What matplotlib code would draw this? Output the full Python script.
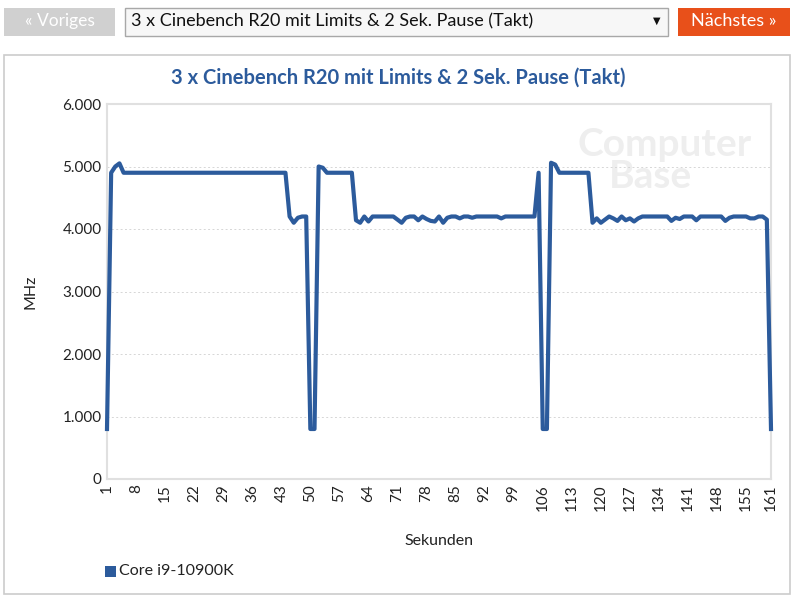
"""Cinebench R20 clock chart (ComputerBase style)."""

import matplotlib.pyplot as plt
import numpy as np
from matplotlib.patches import Rectangle

plt.rcParams["font.family"] = ["Lato", "DejaVu Sans"]

W, H = 799, 602

title = "3 x Cinebench R20 mit Limits & 2 Sek. Pause (Takt)"
series_name = "Core i9-10900K"
seconds = np.arange(1, 162)
mhz = [
    800, 4900, 5000, 5050, 4900, 4900, 4900, 4900, 4900, 4900,
    4900, 4900, 4900, 4900, 4900, 4900, 4900, 4900, 4900, 4900,
    4900, 4900, 4900, 4900, 4900, 4900, 4900, 4900, 4900, 4900,
    4900, 4900, 4900, 4900, 4900, 4900, 4900, 4900, 4900, 4900,
    4900, 4900, 4900, 4900, 4200, 4100, 4180, 4200, 4200, 800,
    800, 5000, 4980, 4900, 4900, 4900, 4900, 4900, 4900, 4900,
    4140, 4100, 4200, 4120, 4200, 4200, 4200, 4200, 4200, 4200,
    4150, 4100, 4180, 4200, 4200, 4140, 4200, 4160, 4130, 4120,
    4200, 4100, 4180, 4200, 4200, 4170, 4200, 4200, 4180, 4200,
    4200, 4200, 4200, 4200, 4200, 4170, 4200, 4200, 4200, 4200,
    4200, 4200, 4200, 4200, 4900, 800, 800, 5060, 5030, 4900,
    4900, 4900, 4900, 4900, 4900, 4900, 4900, 4100, 4170, 4100,
    4150, 4200, 4170, 4130, 4200, 4140, 4170, 4120, 4170, 4200,
    4200, 4200, 4200, 4200, 4200, 4200, 4130, 4180, 4160, 4200,
    4200, 4200, 4140, 4200, 4200, 4200, 4200, 4200, 4200, 4130,
    4180, 4200, 4200, 4200, 4200, 4170, 4170, 4200, 4200, 4150,
    800,
]
x_ticks = list(range(1, 156, 7)) + [161]
y_ticks = [0, 1000, 2000, 3000, 4000, 5000, 6000]
y_labels = ["0", "1.000", "2.000", "3.000", "4.000", "5.000", "6.000"]

blue = "#2c5b9c"
text_col = "#222222"
wm = "#eeeeee"


def fx(px):
    return px / W


def fy(py):
    return 1 - py / H


def box(x0, y0, x1, y1, face, edge="none", lw=1.0):
    fig.patches.append(Rectangle((fx(x0), fy(y1)), fx(x1 - x0), (y1 - y0) / H,
                                 transform=fig.transFigure, facecolor=face,
                                 edgecolor=edge, linewidth=lw, zorder=0))


fig = plt.figure(figsize=(W / 100, H / 100), dpi=100)

# navigation bar
box(4, 8, 115, 36, "#d0d0d0")
fig.text(fx(60), fy(21), "« Voriges", color="white", fontsize=12.5,
         ha="center", va="center")
box(125, 8, 668, 36, "#f7f7f7", edge="#a8a8a8")
fig.text(fx(131), fy(21), title, color="#111111", fontsize=13,
         ha="left", va="center")
fig.text(fx(657), fy(21), "▼", color="#111111", fontsize=7,
         ha="center", va="center", family="DejaVu Sans")
box(678, 8, 790, 36, "#e8501a")
fig.text(fx(734), fy(21), "Nächstes »", color="white", fontsize=13,
         ha="center", va="center")

# chart panel
box(4, 55, 790, 594, "white", edge="#cccccc", lw=1.2)
fig.text(fx(398), fy(78), title, color=blue, fontsize=14.5, weight="bold",
         ha="center", va="center")

# watermark
fig.text(fx(665), fy(145), "Computer", color=wm, fontsize=28,
         weight="bold", ha="center", va="center", zorder=0.5)
fig.text(fx(650), fy(177), "Base", color=wm, fontsize=28,
         weight="bold", ha="center", va="center", zorder=0.5)

ax = fig.add_axes([fx(107), fy(479), fx(771 - 107), (479 - 104) / H])
ax.set_zorder(2)
ax.patch.set_alpha(0)
ax.plot(seconds, mhz, color=blue, linewidth=3, solid_joinstyle="round",
        zorder=3, clip_on=False)
ax.set_xlim(1, 161)
ax.set_ylim(0, 6000)
ax.set_yticks(y_ticks)
ax.set_yticklabels(y_labels)
ax.set_xticks(x_ticks)
ax.set_xticklabels([str(t) for t in x_ticks], rotation=90)
ax.tick_params(length=0, labelsize=11, colors=text_col, pad=4)
ax.grid(axis="y", color="#d6d6d6", linestyle=(0, (2, 2.5)), linewidth=0.7)
for side in ["left", "bottom", "top", "right"]:
    ax.spines[side].set_color("#e0e0e0")
    ax.spines[side].set_linewidth(1.5)
ax.set_ylabel("MHz", fontsize=11.5, color=text_col)
ax.yaxis.set_label_coords((30 - 107) / 664, 0.5)
ax.set_xlabel("Sekunden", fontsize=11.5, color=text_col)
ax.xaxis.set_label_coords(0.5, -(541 - 479) / 375)
ax.xaxis.label.set_va("center")
ax.yaxis.label.set_va("center")

# legend
box(105, 566, 116, 577, blue)
fig.text(fx(119), fy(571), series_name, color=text_col, fontsize=11.5,
         ha="left", va="center")

fig.savefig("out.png", dpi=100)
